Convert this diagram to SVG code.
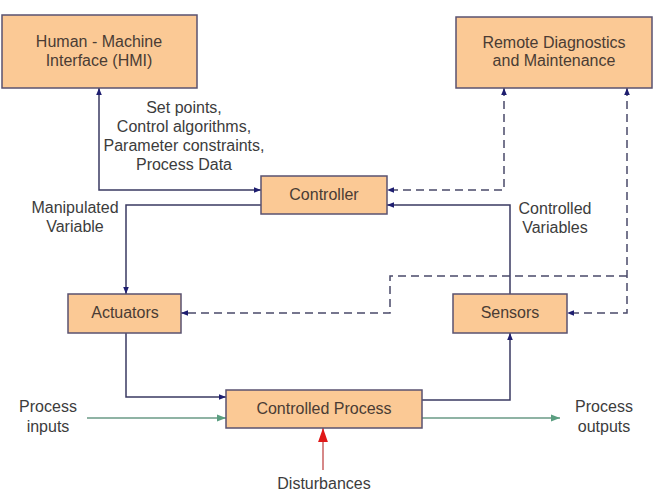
<svg xmlns="http://www.w3.org/2000/svg" width="654" height="498" viewBox="0 0 654 498">
<style>
.box{fill:#fbc995;stroke:#5a5270;stroke-width:1.5}
.t{font-family:"Liberation Sans",Arial,sans-serif;font-size:16px;fill:#3c3c3c;text-anchor:middle}
.bt{font-family:"Liberation Sans",Arial,sans-serif;font-size:16px;fill:#4a3c34;text-anchor:middle}
.ln{fill:none;stroke:#3a3a62;stroke-width:1.5}
.dl{fill:none;stroke:#4a4a6a;stroke-width:1.5;stroke-dasharray:8,5}
.gl{fill:none;stroke:#6a9a86;stroke-width:1.5}
.rl{fill:none;stroke:#c86060;stroke-width:1.5}
</style>
<defs>
<marker id="a" viewBox="0 0 10 10" refX="10" refY="5" markerWidth="7" markerHeight="7" markerUnits="userSpaceOnUse" orient="auto-start-reverse"><path d="M0,1L10,5L0,9z" fill="#1e1e70"/></marker>
<marker id="g" viewBox="0 0 10 10" refX="10" refY="5" markerWidth="9" markerHeight="9" markerUnits="userSpaceOnUse" orient="auto"><path d="M0,1L10,5L0,9z" fill="#5a9e80"/></marker>
<marker id="r" viewBox="0 0 10 10" refX="10" refY="5" markerWidth="14" markerHeight="14" markerUnits="userSpaceOnUse" orient="auto"><path d="M0,1.5L10,5L0,8.5z" fill="#e01818"/></marker>
</defs>
<rect width="654" height="498" fill="#fff"/>
<g id="connectors">
<path class="ln" d="M99,88V190H261" marker-start="url(#a)" marker-end="url(#a)"/>
<path class="ln" d="M261,205H126V294" marker-end="url(#a)"/>
<path class="ln" d="M126,333V397H226" marker-end="url(#a)"/>
<path class="ln" d="M422,400H510V333" marker-end="url(#a)"/>
<path class="ln" d="M510,294V205H387" marker-end="url(#a)"/>
<path class="dl" d="M504,88V190H387" marker-start="url(#a)" marker-end="url(#a)"/>
<path class="dl" d="M627,88V313H567" marker-start="url(#a)" marker-end="url(#a)"/>
<path class="dl" d="M627,276H390V313H181" marker-end="url(#a)"/>
<path class="gl" d="M87,418H226" marker-end="url(#g)"/>
<path class="gl" d="M422,418H560" marker-end="url(#g)"/>
<path class="rl" d="M323,470V428" marker-end="url(#r)"/>
</g>
<g id="hmi"><rect class="box" x="2" y="15" width="195" height="73"/><text class="bt" x="99" y="47">Human - Machine</text><text class="bt" x="99" y="66">Interface (HMI)</text></g>
<g id="remote"><rect class="box" x="456" y="17" width="196" height="71"/><text class="bt" x="554" y="48">Remote Diagnostics</text><text class="bt" x="554" y="66">and Maintenance</text></g>
<g id="controller"><rect class="box" x="261" y="176" width="126" height="38"/><text class="bt" x="324" y="200">Controller</text></g>
<g id="actuators"><rect class="box" x="68" y="294" width="113" height="39"/><text class="bt" x="125" y="318">Actuators</text></g>
<g id="sensors"><rect class="box" x="453" y="294" width="114" height="39"/><text class="bt" x="510" y="318">Sensors</text></g>
<g id="process"><rect class="box" x="226" y="390" width="196" height="38"/><text class="bt" x="324" y="414">Controlled Process</text></g>
<g id="labels">
<text class="t" x="184" y="113">Set points,</text>
<text class="t" x="184" y="132">Control algorithms,</text>
<text class="t" x="184" y="151">Parameter constraints,</text>
<text class="t" x="184" y="170">Process Data</text>
<text class="t" x="75" y="213">Manipulated</text>
<text class="t" x="75" y="232">Variable</text>
<text class="t" x="555" y="214">Controlled</text>
<text class="t" x="555" y="233">Variables</text>
<text class="t" x="48" y="412">Process</text>
<text class="t" x="48" y="432">inputs</text>
<text class="t" x="604" y="412">Process</text>
<text class="t" x="604" y="432">outputs</text>
<text class="t" x="324" y="489">Disturbances</text>
</g>
</svg>
